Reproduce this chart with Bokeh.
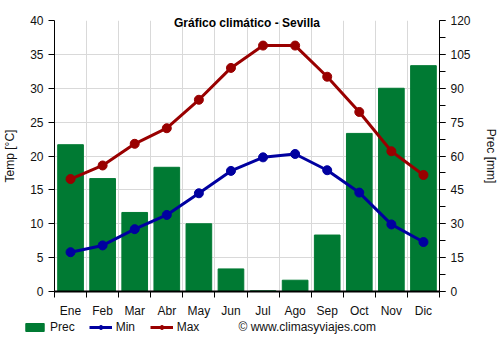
from bokeh.plotting import figure
from bokeh.layouts import column
from bokeh.models import (Range1d, LinearAxis, FixedTicker, Legend, LegendItem, Label, ColumnDataSource)
from bokeh.embed import file_html
from bokeh.resources import INLINE

months = ["Ene", "Feb", "Mar", "Abr", "May", "Jun", "Jul", "Ago", "Sep", "Oct", "Nov", "Dic"]
prec = [65, 50, 35, 55, 30, 10, 0.3, 5, 25, 70, 90, 100]
tmin = [5.8, 6.8, 9.2, 11.3, 14.5, 17.8, 19.8, 20.3, 17.9, 14.6, 9.9, 7.3]
tmax = [16.6, 18.6, 21.8, 24.1, 28.3, 33.0, 36.3, 36.3, 31.7, 26.5, 20.7, 17.2]
credit = "© www.climasyviajes.com"

FONT = "Liberation Sans"
GREEN = "#007a33"
BLUE = "#0000a0"
RED = "#990000"
TXT = "#111111"

x = [i + 0.5 for i in range(12)]
src = ColumnDataSource(dict(x=x, prec=prec, tmin=tmin, tmax=tmax))

p = figure(width=500, height=320, output_backend="svg", toolbar_location=None,
           x_range=Range1d(0, 12), y_range=Range1d(0, 40),
           min_border_left=49, min_border_right=55, min_border_top=20, min_border_bottom=28)
p.extra_y_ranges = {"prec": Range1d(0, 120)}
p.outline_line_color = None
p.background_fill_color = "white"
p.border_fill_color = "white"

p.title.text = "Gráfico climático - Sevilla"
p.title.align = "center"
p.title.text_font = FONT
p.title.text_font_size = "12px"
p.title.text_font_style = "bold"
p.title.text_color = "black"
p.title.offset = 0
p.title.standoff = -18

p.vbar(x="x", top="prec", width=0.8, source=src, color=GREEN, y_range_name="prec")
p.line("x", "tmin", source=src, color=BLUE, line_width=3)
p.scatter("x", "tmin", source=src, color=BLUE, size=9)
p.line("x", "tmax", source=src, color=RED, line_width=3)
p.scatter("x", "tmax", source=src, color=RED, size=9)

def style_axis(a):
    a.major_label_text_font = FONT
    a.major_label_text_font_size = "12px"
    a.major_label_text_color = TXT
    a.axis_label_text_font = FONT
    a.axis_label_text_font_size = "12px"
    a.axis_label_text_font_style = "normal"
    a.axis_label_text_color = TXT
    a.axis_line_color = "black"
    a.major_tick_line_color = "black"
    a.minor_tick_line_color = "black"

xa = p.xaxis[0]
style_axis(xa)
xa.ticker = FixedTicker(ticks=x, minor_ticks=list(range(13)))
xa.major_label_overrides = {v: m for v, m in zip(x, months)}
xa.major_tick_line_color = None
xa.minor_tick_out = 6
xa.minor_tick_in = 0
xa.axis_line_width = 2
xa.major_label_standoff = 6

ya = p.yaxis[0]
style_axis(ya)
ya.ticker = FixedTicker(ticks=list(range(0, 41, 5)))
ya.major_tick_out = 6
ya.major_tick_in = 0
ya.minor_tick_line_color = None
ya.axis_label = "Temp [°C]"
ya.axis_label_standoff = 10

ra = LinearAxis(y_range_name="prec")
style_axis(ra)
ra.ticker = FixedTicker(ticks=list(range(0, 121, 15)), minor_ticks=[7.5 * i for i in range(17)])
ra.major_tick_out = 6
ra.major_tick_in = 0
ra.minor_tick_out = 6
ra.minor_tick_in = 0
ra.axis_label = "Prec [mm]"
ra.axis_label_standoff = 10
p.add_layout(ra, "right")

p.xgrid.ticker = FixedTicker(ticks=list(range(13)))
p.ygrid.ticker = FixedTicker(ticks=list(range(0, 41, 5)))
p.xgrid.grid_line_color = "#d9d9d9"
p.ygrid.grid_line_color = "#d9d9d9"

# legend strip (its renderers hold the same series, out of this strip's view)
lg = figure(frame_width=500, frame_height=30, output_backend="svg", toolbar_location=None,
            x_range=Range1d(1000, 1500), y_range=Range1d(1000, 1030),
            min_border=0, x_axis_location=None, y_axis_location=None)
lg.outline_line_color = None
lg.xgrid.visible = False
lg.ygrid.visible = False
rb = lg.vbar(x="x", top="prec", width=0.8, source=src, color=GREEN)
rl1 = lg.line("x", "tmin", source=src, color=BLUE, line_width=3)
rc1 = lg.scatter("x", "tmin", source=src, color=BLUE, size=5)
rl2 = lg.line("x", "tmax", source=src, color=RED, line_width=3)
rc2 = lg.scatter("x", "tmax", source=src, color=RED, size=5)

legend = Legend(items=[LegendItem(label="Prec", renderers=[rb]),
                       LegendItem(label="Min", renderers=[rl1, rc1]),
                       LegendItem(label="Max", renderers=[rl2, rc2])],
                orientation="horizontal", location=(23, 16),
                background_fill_alpha=0, border_line_color=None,
                label_text_font=FONT, label_text_font_size="12px", label_text_color=TXT,
                glyph_width=23, glyph_height=10, spacing=14, label_standoff=4,
                padding=0, margin=0)
lg.add_layout(legend, "center")
lg.add_layout(Label(x=1184, y=1024, text=credit,
                    text_font=FONT, text_font_size="12px",
                    text_color=TXT, text_baseline="middle"))

open("out.html", "w").write(file_html(column(p, lg, spacing=0), INLINE))
